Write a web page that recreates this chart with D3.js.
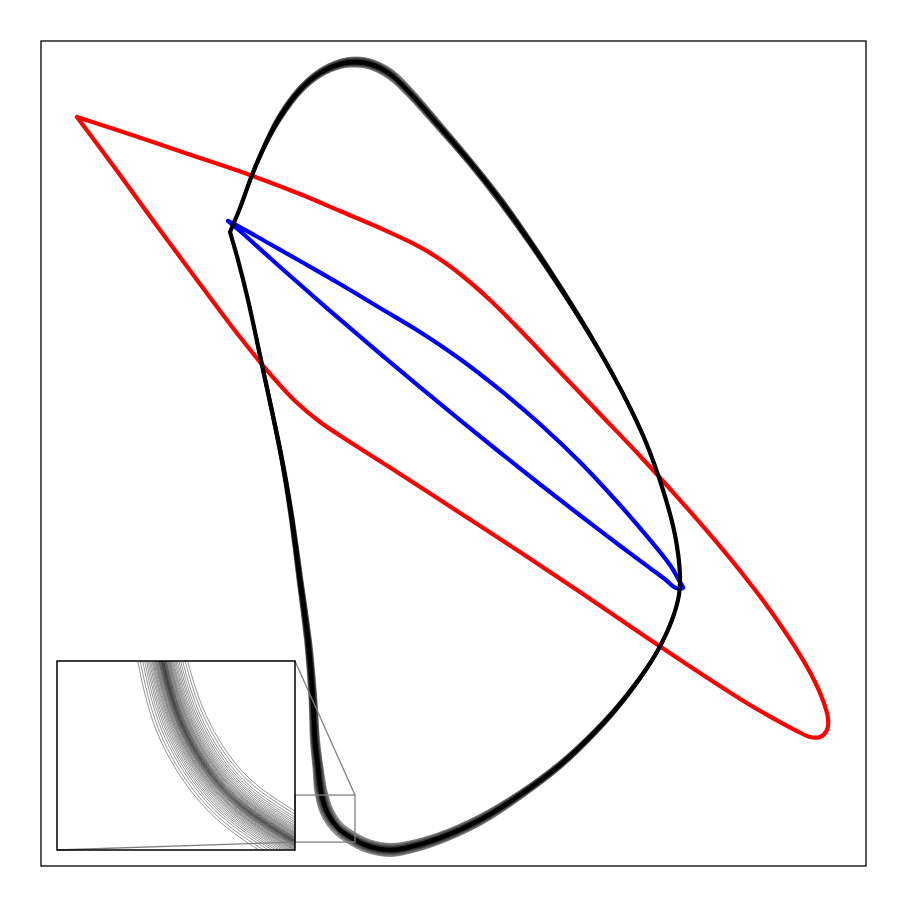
<!DOCTYPE html>
<html><head><meta charset="utf-8">
<script src="https://cdn.jsdelivr.net/npm/d3@7/dist/d3.min.js"></script>
<style>body{margin:0;background:#fff}</style>
</head><body>
<script>
// ---- data (phase-plane coordinates) ----
const redX = [4.36,13.21,19.27,25.33,31.39,36.24,41.09,44.73,47.76,50.79,54.42,58.06,62.91,67.76,72.61,77.45,81.45,85.33,88.36,91.39,
              93.45,94.67,95.39,95.27,94.42,93.21,91.64,89.58,85.94,79.88,72.61,65.33,58.06,50.79,43.52,37.45,33.82,30.79,27.76,24.12,
              19.27,14.42,9.58,4.36];
const redY = [90.79,87.88,85.82,83.76,81.45,79.39,77.33,75.64,73.94,71.76,68.61,64.97,59.88,54.79,49.70,44.36,39.76,35.03,31.03,26.55,
              23.03,20.36,17.94,16.48,15.64,15.64,16.36,17.45,19.52,23.39,28.24,33.21,38.06,42.79,47.52,51.39,53.82,56.36,59.64,64.12,
              70.55,77.09,83.76,90.79];

const blueX = [22.67,24.12,27.76,31.39,36.24,41.09,45.94,50.79,55.64,60.48,65.33,70.18,73.82,76.24,77.45,77.82,
               76.97,75.64,73.82,70.18,65.33,60.48,55.64,50.79,45.94,41.09,36.24,31.39,27.76,24.12,22.67];
const blueY = [78.18,77.45,75.39,73.33,70.55,67.64,64.73,61.45,57.70,53.58,48.97,43.76,39.52,36.48,34.42,33.70,
               33.70,34.76,36.11,38.82,42.51,46.27,50.12,54.04,58.04,62.11,66.25,70.48,73.70,76.97,78.18];

const blackX = [22.91,24.12,25.58,27.15,28.97,31.39,33.82,36.24,38.06,39.88,42.30,44.73,48.36,52.0,55.64,59.27,62.91,66.55,70.18,73.21,75.39,76.85,77.45,77.33,76.48,
                74.79,72.61,69.58,66.55,62.91,58.06,53.21,48.36,44.73,42.30,39.64,37.45,35.88,34.67,33.94,33.58,33.21,32.97,32.36,31.39,30.42,29.21,26.79,25.09,23.88,22.91];
const blackY = [76.85,79.76,83.76,87.39,90.79,94.06,96.12,97.21,97.45,97.21,96.0,93.70,89.58,85.33,80.73,75.64,70.18,64.36,57.94,51.64,45.58,40.12,35.27,32.85,29.82,
                26.18,22.79,18.91,15.64,12.24,8.61,5.58,3.39,2.30,1.94,2.42,3.52,4.73,6.55,8.97,11.88,15.27,20.12,27.39,34.67,41.94,49.21,60.73,68.61,73.45,76.85];
// half-width of the ensemble of trajectories at each black point
const bundleSpread = [0.06,0.12,0.18,0.24,0.36,0.42,0.48,0.55,0.61,0.61,0.61,0.55,0.48,0.42,0.42,0.36,0.30,0.24,0.18,0.15,0.12,0.12,0.12,0.12,0.15,
                      0.18,0.24,0.30,0.36,0.42,0.48,0.61,0.67,0.73,0.79,0.79,0.79,0.79,0.79,0.73,0.61,0.55,0.48,0.42,0.36,0.30,0.24,0.18,0.12,0.085,0.06];
// relative position of each ensemble member inside the bundle
const members = [-1.0,-0.9,-0.8,-0.72,-0.65,-0.59,-0.53,-0.48,-0.43,-0.39,-0.35,-0.31,-0.28,-0.25,-0.22,-0.19,-0.16,-0.14,-0.12,-0.1,
                 -0.08,-0.06,-0.045,-0.03,-0.015,0.0,0.015,0.03,0.045,0.06,0.08,0.1,0.12,0.14,0.16,0.19,0.22,0.25,0.28,0.31,
                 0.35,0.39,0.43,0.48,0.53,0.59,0.65,0.72,0.8,0.9,1.0];

const mainLim = [0, 100];
const insetXLim = [30.8, 38.06];
const insetYLim = [2.9, 8.6];

// ---- drawing ----
const W = 907, H = 907;
const svg = d3.select('body').append('svg').attr('width', W).attr('height', H);
svg.append('rect').attr('width', W).attr('height', H).attr('fill', '#fff');

const x = d3.scaleLinear().domain(mainLim).range([41, 866]);
const y = d3.scaleLinear().domain(mainLim).range([866, 41]);

const pts = (X, Y) => X.map((v, i) => [v, Y[i]]);
const red = pts(redX, redY), blue = pts(blueX, blueY), black = pts(blackX, blackY);

function member(P, S, f) {
  const n = P.length;
  return P.map((p, i) => {
    const a = P[i > 0 ? i - 1 : n - 2], b = P[i < n - 1 ? i + 1 : 1];
    const tx = b[0] - a[0], ty = b[1] - a[1];
    const L = Math.hypot(tx, ty) || 1;
    return [p[0] - ty / L * f * S[i], p[1] + tx / L * f * S[i]];
  });
}
const ensemble = members.map(f => member(black, bundleSpread, f));

const defs = svg.append('defs');
defs.append('clipPath').attr('id', 'mainClip').append('rect')
  .attr('x', 41).attr('y', 41).attr('width', 825).attr('height', 825);
defs.append('clipPath').attr('id', 'insetClip').append('rect')
  .attr('x', 57).attr('y', 661).attr('width', 238).attr('height', 189);

const mk = (xs, ys) => d3.line().x(d => xs(d[0])).y(d => ys(d[1])).curve(d3.curveCatmullRom.alpha(0.5));
const line = mk(x, y);

const g = svg.append('g').attr('clip-path', 'url(#mainClip)');
g.append('path').attr('d', line(red)).attr('fill', 'none').attr('stroke', '#ff0000')
  .attr('stroke-width', 4.2).attr('stroke-linejoin', 'round').attr('stroke-linecap', 'round');
g.append('path').attr('d', line(blue)).attr('fill', 'none').attr('stroke', '#0000ff')
  .attr('stroke-width', 4.2).attr('stroke-linejoin', 'round').attr('stroke-linecap', 'round');
g.selectAll('path.ens').data(ensemble).join('path').attr('class', 'ens')
  .attr('d', d => line(d)).attr('fill', 'none').attr('stroke', '#000')
  .attr('stroke-width', 0.7).attr('stroke-opacity', 0.6);
g.append('path').attr('d', line(black)).attr('fill', 'none').attr('stroke', '#000')
  .attr('stroke-width', 4.2).attr('stroke-linejoin', 'round').attr('stroke-linecap', 'round');

// inset
const xi = d3.scaleLinear().domain(insetXLim).range([57, 295]);
const yi = d3.scaleLinear().domain(insetYLim).range([850, 661]);
const linei = mk(xi, yi);
svg.append('rect').attr('x', 57).attr('y', 661).attr('width', 238).attr('height', 189).attr('fill', '#fff');
const gi = svg.append('g').attr('clip-path', 'url(#insetClip)');
gi.selectAll('path').data(ensemble).join('path')
  .attr('d', d => linei(d)).attr('fill', 'none').attr('stroke', '#000')
  .attr('stroke-width', 0.7).attr('stroke-opacity', 0.6);

// zoom box and connectors
const bx0 = x(insetXLim[0]), bx1 = x(insetXLim[1]), by0 = y(insetYLim[1]), by1 = y(insetYLim[0]);
svg.append('rect').attr('x', bx0).attr('y', by0).attr('width', bx1 - bx0).attr('height', by1 - by0)
  .attr('fill', 'none').attr('stroke', '#808080').attr('stroke-width', 1.3);
svg.append('line').attr('x1', xi.range()[1]).attr('y1', yi.range()[1]).attr('x2', bx1).attr('y2', by0)
  .attr('stroke', '#808080').attr('stroke-width', 1.3);
svg.append('line').attr('x1', xi.range()[0]).attr('y1', yi.range()[0]).attr('x2', bx0).attr('y2', by1)
  .attr('stroke', '#808080').attr('stroke-width', 1.3);

svg.append('rect').attr('x', 57).attr('y', 661).attr('width', 238).attr('height', 189)
  .attr('fill', 'none').attr('stroke', '#000').attr('stroke-width', 1.5);
svg.append('rect').attr('x', 41).attr('y', 41).attr('width', 825).attr('height', 825)
  .attr('fill', 'none').attr('stroke', '#000').attr('stroke-width', 1.3);
</script>
</body></html>
